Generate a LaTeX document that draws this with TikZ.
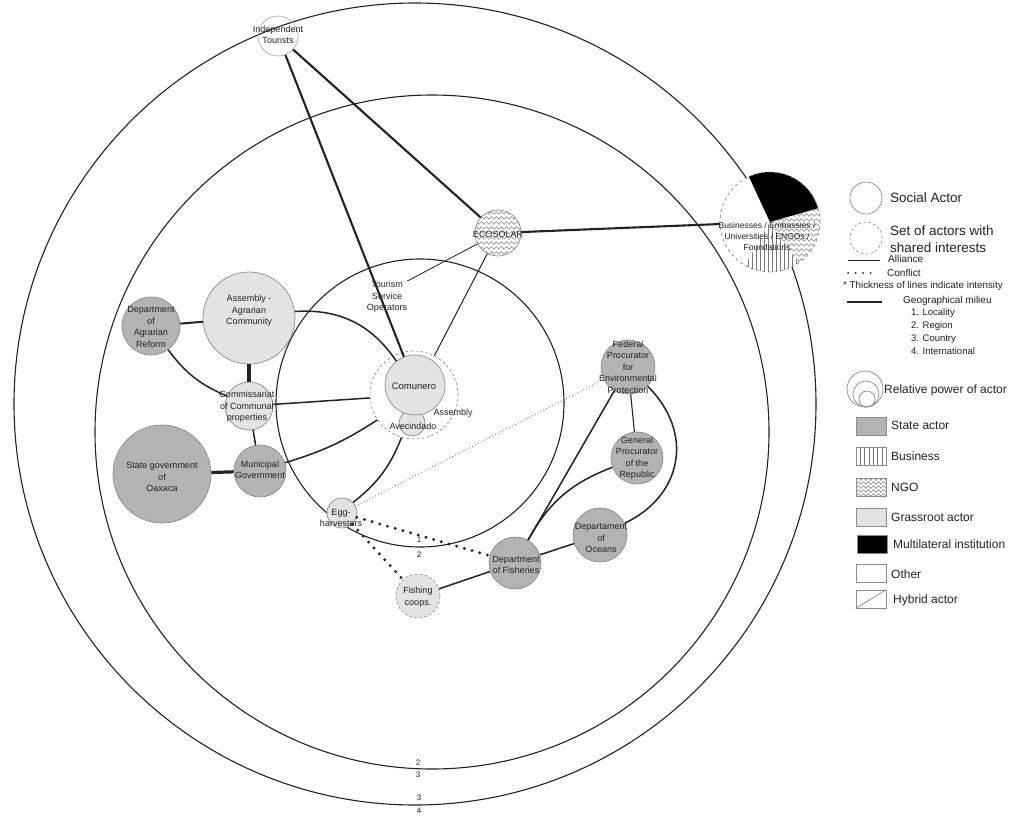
\documentclass[tikz,border=0pt]{standalone}
\usepackage{fontspec}
\setmainfont{Liberation Sans}
\usetikzlibrary{decorations.pathmorphing}
\definecolor{statecol}{HTML}{B3B3B3}
\definecolor{grasscol}{HTML}{E3E3E3}
\definecolor{edgecol}{HTML}{8C8C8C}
\definecolor{inkcol}{HTML}{222222}
\definecolor{patcol}{HTML}{777777}
\begin{document}
\begin{tikzpicture}[x=1pt,y=-1pt,
  geo/.style={draw=inkcol, line width=1.1pt},
  actor/.style={circle, draw=edgecol, line width=0.7pt, inner sep=0pt},
  stateactor/.style={actor, fill=statecol},
  grassactor/.style={actor, fill=grasscol},
  setactor/.style={actor, dash pattern=on 2.5pt off 2.5pt},
  lab/.style={inner sep=0pt, align=center, text=inkcol, font=\fontsize{9}{11.5}\selectfont},
  thinlink/.style={draw=inkcol, line width=0.8pt},
  medlink/.style={draw=inkcol, line width=1.5pt},
  thicklink/.style={draw=inkcol, line width=2.1pt},
  heavylink/.style={draw=inkcol, line width=3.2pt},
  conflictthin/.style={draw=inkcol!70, line width=1.1pt, line cap=round, dash pattern=on 0pt off 3.2pt},
  conflictthick/.style={draw=inkcol, line width=3.2pt, line cap=round, dash pattern=on 0pt off 8pt},
  legtxt/.style={anchor=west, inner sep=0pt, text=inkcol, align=left},
  wavy/.style={draw=patcol, line width=0.45pt, decorate, decoration={snake, amplitude=1.4pt, segment length=5pt}},
  legbox/.style={draw=edgecol, line width=0.7pt, minimum width=30pt, minimum height=18pt, inner sep=0pt},
  milieulab/.style={inner sep=0pt, text=inkcol, font=\fontsize{8}{9}\selectfont},
]
\useasboundingbox (0,0) rectangle (1020,817);
\fill[white] (0,0) rectangle (1020,817);

% geographical milieus
\draw[geo] (415,404) circle (401pt);
\draw[geo] (432,432) circle (337pt);
\draw[geo] (420,403) circle (144pt);
\node[milieulab] (m1) at (419,540) {1};
\node[milieulab] (m2) at (419,555) {2};
\node[milieulab] (m3) at (418,763) {2};
\node[milieulab] (m4) at (418,775) {3};
\node[milieulab] (m5) at (419,798) {3};
\node[milieulab] (m6) at (419,811) {4};

% ECOSOLAR texture
\begin{scope}
  \clip (498,233) circle (23pt);
  \fill[white] (498,233) circle (23pt);
  \foreach \k in {0,...,9} \draw[wavy] (470,{208+5*\k}) -- (528,{208+5*\k});
\end{scope}
\node[actor, minimum size=46pt] (eco) at (498,233) {};

% Businesses texture
\begin{scope}
  \clip (770,222) circle (50pt);
  \fill[white] (770,222) circle (50pt);
  \fill[black] (770,222) -- ++(16:55pt) arc[start angle=16, end angle=115, radius=55pt] -- cycle;
  \begin{scope}
    \clip (770,222) -- ++(-55:55pt) arc[start angle=-55, end angle=16, radius=55pt] -- cycle;
    \foreach \k in {0,...,12} \draw[wavy] (765,{205+5*\k}) -- (825,{205+5*\k});
  \end{scope}
  \begin{scope}
    \clip (770,222) -- ++(-120:55pt) arc[start angle=-120, end angle=-55, radius=55pt] -- cycle;
    \foreach \k in {0,...,14} \draw[patcol, line width=0.5pt] ({740+4*\k},222) -- ({740+4*\k},275);
  \end{scope}
\end{scope}
\node[actor, minimum size=100pt, dash pattern=on 3pt off 3pt] (biz) at (770,222) {};

% actors
\node[actor, draw=edgecol!70, minimum size=40pt] (it) at (278,36) {};
\node[grassactor, minimum size=92pt] (aac) at (249,318) {};
\node[stateactor, minimum size=58pt] (dar) at (151,326) {};
\node[grassactor, minimum size=48pt] (comm) at (249,406) {};
\node[stateactor, minimum size=98pt] (sg) at (162,474) {};
\node[stateactor, minimum size=52pt] (mun) at (260,471) {};
\node[setactor, minimum size=88pt] (asm) at (414,395) {};
\node[grassactor, minimum size=26pt] (ave) at (412,423) {};
\node[grassactor, minimum size=60pt] (com) at (415,385) {};
\node[grassactor, minimum size=30pt] (egg) at (342,513) {};
\node[setactor, fill=grasscol, minimum size=44pt] (fco) at (418,596) {};
\node[stateactor, minimum size=52pt] (fish) at (515,563) {};
\node[stateactor, minimum size=54pt] (oce) at (600,535) {};
\node[stateactor, minimum size=52pt] (gpr) at (637,458) {};
\node[stateactor, minimum size=54pt] (fpep) at (628,367) {};
\node[lab] (tso) at (387,297) {Tourism\\Service\\Operators};

% connectors
\draw[thicklink] (it) -- (com);
\draw[thicklink] (it) -- (eco);
\draw[thicklink] (eco) -- (biz);
\draw[thinlink] (eco) -- (tso.north east);
\draw[thinlink, line width=1pt] (eco) -- (asm);
\draw[medlink, line width=2pt] (dar) -- (aac);
\draw[medlink] (dar) to[bend right=15] (comm);
\draw[heavylink] (aac) -- (comm);
\draw[medlink] (aac) to[bend left=30] (com);
\draw[medlink] (comm) -- (asm);
\draw[medlink] (comm) -- (mun);
\draw[heavylink] (sg) -- (mun);
\draw[medlink] (mun) to[bend right=8] (asm);
\draw[medlink] (asm) to[bend left=15] (egg);
\draw[conflictthin] (egg) -- (fpep);
\draw[conflictthick] (egg) -- (fish);
\draw[conflictthick] (egg) -- (fco);
\draw[medlink] (fco) -- (fish);
\draw[medlink] (fish) -- (oce);
\draw[medlink] (fish) -- (fpep);
\draw[medlink] (fish) to[bend left=20] (gpr);
\draw[thinlink, line width=1.1pt] (fpep) -- (gpr);
\draw[medlink] (fpep) to[bend left=55, looseness=1.2] (oce);

% texts
\node[lab] (itt) at (278,35) {Independent\\Tourists};
\node[lab] (ecot) at (498,234) {ECOSOLAR};
\node[lab, font=\fontsize{8.5}{11}\selectfont] (bizt) at (767,236) {Businesses / Embassies /\\Universities / ENGOs /\\Foundations};
\node[lab] (aact) at (249,311) {Assembly -\\Agrarian\\Community};
\node[lab] (dart) at (151,327) {Department\\of\\Agrarian\\Reform};
\node[lab] (commt) at (247,407) {Commissariat\\of Communal\\properties};
\node[lab] (sgt) at (162,477) {State government\\of\\Oaxaca};
\node[lab] (munt) at (260,470) {Municipal\\Government};
\node[lab, font=\fontsize{9.5}{11.5}\selectfont] (comt) at (414,386) {Comunero};
\node[lab] (asmt) at (453,413) {Assembly};
\node[lab] (avet) at (413,426) {Avecindado};
\node[lab] (eggt) at (341,518) {Egg-\\harvesters};
\node[lab] (fcot) at (418,597) {Fishing\\coops.};
\node[lab] (fisht) at (516,565) {Department\\of Fisheries};
\node[lab] (ocet) at (601,538) {Departament\\of\\Oceans};
\node[lab] (gprt) at (637,458) {General\\Procurator\\of the\\Republic};
\node[lab] (fpept) at (628,367) {Federal\\Procurator\\for\\Environmental\\Protection};

% legend
\node[actor, minimum size=32pt] (lsoc) at (866,198) {};
\node[legtxt, font=\fontsize{13.5}{16}\selectfont] (lsoct) at (890,198) {Social Actor};
\node[setactor, minimum size=32pt] (lset) at (866,238) {};
\node[legtxt, font=\fontsize{13.5}{17}\selectfont] (lsett) at (890,239) {Set of actors with\\shared interests};
\coordinate (la1) at (848,260);
\coordinate (la2) at (880,260);
\draw[thinlink] (la1) -- (la2);
\node[legtxt, font=\fontsize{10}{12}\selectfont] (lat) at (888,259) {Alliance};
\coordinate (lc1) at (848,273);
\coordinate (lc2) at (878,273);
\draw[draw=inkcol, line width=2pt, line cap=round, dash pattern=on 0pt off 7.5pt] (lc1) -- (lc2);
\node[legtxt, font=\fontsize{10}{12}\selectfont] (lct) at (887,273) {Conflict};
\node[legtxt, font=\fontsize{9.8}{11}\selectfont] (lthk) at (843,286) {* Thickness of lines indicate intensity};
\coordinate (lg1) at (847,302);
\coordinate (lg2) at (882,302);
\draw[medlink] (lg1) -- (lg2);
\node[legtxt, font=\fontsize{10}{12}\selectfont] (lgt) at (903,301) {Geographical milieu};
\node[legtxt, font=\fontsize{9.5}{13}\selectfont] (lgl) at (911,332) {1. Locality\\2. Region\\3. Country\\4. International};
\node[actor, minimum size=36pt] (lp1) at (865,389) {};
\node[actor, minimum size=26pt] (lp2) at (866,394) {};
\node[actor, minimum size=16pt] (lp3) at (867,399) {};
\node[legtxt, font=\fontsize{12}{14}\selectfont] (lpt) at (884,390) {Relative power of actor};

\node[legbox, fill=statecol] (lb1) at (871,426) {};
\node[legtxt, font=\fontsize{12}{14}\selectfont] (lb1t) at (891,425) {State actor};
\foreach \k in {1,...,6} \draw[patcol, line width=0.5pt] ({856+\k*4.3},447) -- ({856+\k*4.3},465);
\node[legbox] (lb2) at (871,456) {};
\node[legtxt, font=\fontsize{12}{14}\selectfont] (lb2t) at (891,456) {Business};
\begin{scope}
  \clip (856,478) rectangle (886,496);
  \foreach \k in {0,...,4} \draw[wavy, draw=inkcol!70] (852,{479+4*\k}) -- (890,{479+4*\k});
\end{scope}
\node[legbox] (lb3) at (871,487) {};
\node[legtxt, font=\fontsize{12}{14}\selectfont] (lb3t) at (891,487) {NGO};
\node[legbox, fill=grasscol] (lb4) at (871,517) {};
\node[legtxt, font=\fontsize{12}{14}\selectfont] (lb4t) at (891,517) {Grassroot actor};
\node[legbox, fill=black] (lb5) at (872,544) {};
\node[legtxt, font=\fontsize{12}{14}\selectfont] (lb5t) at (893,544) {Multilateral institution};
\node[legbox, fill=white] (lb6) at (871,573) {};
\node[legtxt, font=\fontsize{12}{14}\selectfont] (lb6t) at (891,574) {Other};
\node[legbox, fill=white] (lb7) at (871,599) {};
\draw[edgecol, line width=0.7pt] (lb7.south west) -- (lb7.north east);
\node[legtxt, font=\fontsize{12}{14}\selectfont] (lb7t) at (893,600) {Hybrid actor};
\end{tikzpicture}
\end{document}
